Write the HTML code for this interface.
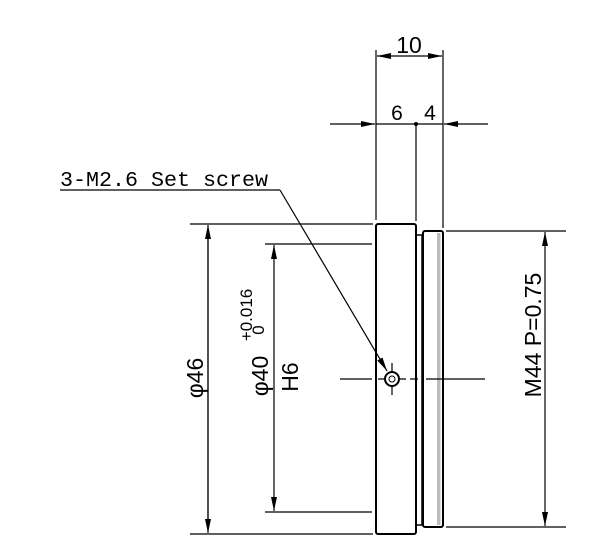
<!DOCTYPE html>
<html><head><style>html,body{margin:0;padding:0;background:#fff}</style></head>
<body>
<svg width="600" height="555" xmlns="http://www.w3.org/2000/svg" style="display:block">
<defs>
<marker id="a" viewBox="0 0 14 6" refX="14" refY="3" markerWidth="14" markerHeight="6" orient="auto" markerUnits="userSpaceOnUse"><path d="M0,0 L14,3 L0,6 z" fill="#000"/></marker>
</defs>
<g stroke="#000" stroke-width="1.2" fill="none">
<rect x="376" y="224" width="40" height="310" rx="2" stroke-width="2"/>
<rect x="416" y="235" width="6" height="290" stroke-width="1.5"/>
<rect x="423" y="231" width="20" height="296" rx="2" stroke-width="2"/>
<rect x="437" y="233" width="3.5" height="292" fill="#bbb" stroke="none"/>
<line x1="190" y1="224" x2="373" y2="224"/>
<line x1="190" y1="534" x2="373" y2="534"/>
<line x1="265" y1="244" x2="372" y2="244"/>
<line x1="265" y1="512" x2="372" y2="512"/>
<line x1="446" y1="231" x2="566" y2="231"/>
<line x1="446" y1="527" x2="566" y2="527"/>
<line x1="376" y1="50" x2="376" y2="220"/>
<line x1="443" y1="50" x2="443" y2="228"/>
<line x1="416" y1="124" x2="416" y2="221"/>
<line x1="208" y1="228" x2="208" y2="530"/>
<line x1="208" y1="380" x2="208" y2="225" marker-end="url(#a)"/>
<line x1="208" y1="380" x2="208" y2="533" marker-end="url(#a)"/>
<line x1="274" y1="380" x2="274" y2="245" marker-end="url(#a)"/>
<line x1="274" y1="380" x2="274" y2="511" marker-end="url(#a)"/>
<line x1="545" y1="380" x2="545" y2="232" marker-end="url(#a)"/>
<line x1="545" y1="380" x2="545" y2="526" marker-end="url(#a)"/>
<line x1="409" y1="56" x2="377" y2="56" marker-end="url(#a)"/>
<line x1="409" y1="56" x2="442" y2="56" marker-end="url(#a)"/>
<line x1="330" y1="124" x2="375" y2="124" marker-end="url(#a)"/>
<line x1="488" y1="124" x2="444" y2="124" marker-end="url(#a)"/>
<line x1="376" y1="124" x2="443" y2="124"/>
<line x1="340" y1="379" x2="372" y2="379"/>
<line x1="378" y1="379" x2="406" y2="379"/>
<line x1="410" y1="379" x2="418" y2="379"/>
<line x1="426" y1="379" x2="485" y2="379"/>
<line x1="392" y1="363" x2="392" y2="395"/>
<polyline points="60,190 280,190"/>
<line x1="280" y1="190" x2="387" y2="371" marker-end="url(#a)"/>
</g>
<circle cx="416" cy="124" r="2" fill="#000"/>
<circle cx="392" cy="379" r="7" fill="#fff" stroke="#000" stroke-width="2"/>
<circle cx="392" cy="379" r="3" fill="none" stroke="#000" stroke-width="1"/>
<g font-family="Liberation Sans, sans-serif" fill="#000">
<text x="409" y="53" font-size="23" text-anchor="middle">10</text>
<text x="397" y="120" font-size="21" text-anchor="middle">6</text>
<text x="430" y="120" font-size="21" text-anchor="middle">4</text>
<text font-family="Liberation Mono, monospace" x="60" y="186" font-size="21" textLength="208" lengthAdjust="spacingAndGlyphs">3-M2.6 Set screw</text>
<text transform="translate(203,378) rotate(-90)" font-size="23" text-anchor="middle">φ46</text>
<text transform="translate(268,376) rotate(-90)" font-size="23" text-anchor="middle">φ40</text>
<text transform="translate(252,315) rotate(-90)" font-size="17" text-anchor="middle">+0.016</text>
<text transform="translate(264,330) rotate(-90)" font-size="17" text-anchor="middle">0</text>
<text transform="translate(298,377) rotate(-90)" font-size="23" text-anchor="middle">H6</text>
<text transform="translate(541,335) rotate(-90)" font-size="23" text-anchor="middle">M44 P=0.75</text>
</g>
</svg>
</body></html>
